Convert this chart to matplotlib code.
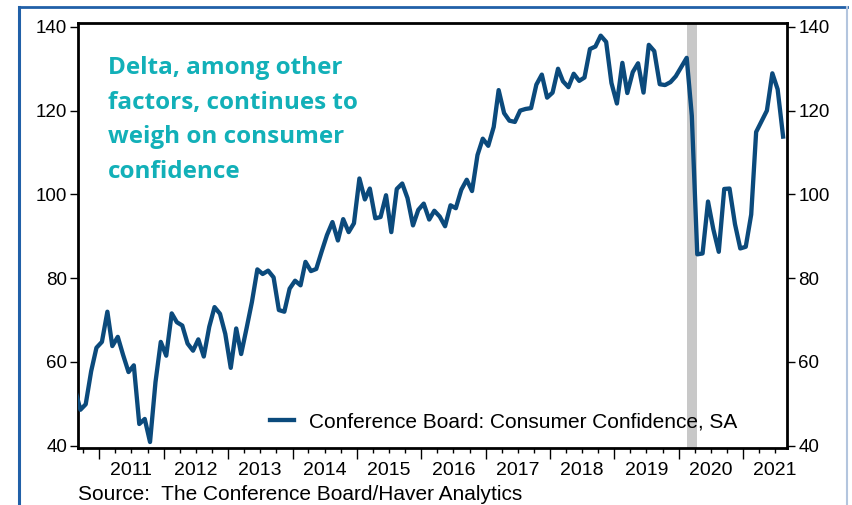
import matplotlib
matplotlib.use("Agg")
import matplotlib.pyplot as plt
import matplotlib.dates as mdates
from matplotlib.ticker import FuncFormatter
import pandas as pd

# ---------- data: Conference Board consumer confidence, monthly from Aug 2010 ----------
start_month = "2010-08-01"
confidence = [
    53.5, 48.6, 49.9, 57.8, 63.4,
    64.8, 72.0, 63.8, 66.0, 61.7, 57.6, 59.2, 45.2, 46.4, 40.9, 55.2, 64.8,
    61.5, 71.6, 69.5, 68.7, 64.4, 62.7, 65.4, 61.3, 68.4, 73.1, 71.5, 66.7,
    58.6, 68.0, 61.9, 68.1, 74.3, 82.1, 81.0, 81.8, 80.2, 72.4, 72.0, 77.5,
    79.4, 78.3, 83.9, 81.7, 82.2, 86.4, 90.3, 93.4, 89.0, 94.1, 91.0, 93.1,
    103.8, 98.8, 101.4, 94.3, 94.6, 99.8, 91.0, 101.3, 102.6, 99.1, 92.6, 96.3,
    97.8, 94.0, 96.1, 94.7, 92.4, 97.4, 96.7, 101.1, 103.5, 100.8, 109.4, 113.3,
    111.6, 116.1, 124.9, 119.4, 117.6, 117.3, 120.0, 120.4, 120.6, 126.2, 128.6, 123.1,
    124.3, 130.0, 127.0, 125.6, 128.8, 127.1, 127.9, 134.7, 135.3, 137.9, 136.4, 126.6,
    121.7, 131.4, 124.2, 129.2, 131.3, 124.3, 135.7, 134.2, 126.3, 126.1, 126.8, 128.2,
    130.4, 132.6, 118.8, 85.7, 85.9, 98.3, 91.7, 86.3, 101.3, 101.4, 92.9, 87.1,
    87.5, 95.2, 114.9, 117.5, 120.0, 128.9, 125.1, 113.8,
]
recession = ("2020-02-15", "2020-04-15")
y_ticks = [40, 60, 80, 100, 120, 140]
series_label = "Conference Board: Consumer Confidence, SA"
headline = "Delta, among other\nfactors, continues to\nweigh on consumer\nconfidence"
source = "Source:  The Conference Board/Haver Analytics"

LINE = "#0b4a7c"
TEAL = "#12b0b8"
FONT = ["Liberation Sans", "DejaVu Sans"]

# 月中位置
dates = pd.date_range(start_month, periods=len(confidence), freq="MS") + pd.Timedelta(days=14)

plt.rcParams["font.family"] = FONT
fig = plt.figure(figsize=(8.52, 5.05), dpi=100)
ax = fig.add_axes([0.0919, 0.1123, 0.8322, 0.8412])

ax.axvspan(pd.Timestamp(recession[0]), pd.Timestamp(recession[1]),
           color="#c8c8c8", lw=0, zorder=1)
ax.plot(dates, confidence, color=LINE, lw=3.1, solid_joinstyle="round",
        label=series_label, zorder=3)

ax.set_xlim(pd.Timestamp("2010-09-03"), pd.Timestamp("2021-09-08"))
ax.set_ylim(39.4, 140.8)
ax.set_yticks(y_ticks)

# x 轴：年界主刻度，季度次刻度，年份标签放在 7 月
ax.xaxis.set_major_locator(mdates.YearLocator())
ax.xaxis.set_major_formatter(FuncFormatter(lambda v, p: ""))
ax.xaxis.set_minor_locator(mdates.MonthLocator(bymonth=[4, 7, 10]))


def year_label(v, pos):
    d = mdates.num2date(v)
    return str(d.year) if d.month == 7 else ""


ax.xaxis.set_minor_formatter(FuncFormatter(year_label))

for s in ax.spines.values():
    s.set_linewidth(2.0)
    s.set_color("black")

ax.tick_params(axis="y", which="major", direction="out", length=6, width=1.0,
               labelsize=13.5, pad=2, left=True, right=True,
               labelleft=True, labelright=True)
ax.tick_params(axis="x", which="major", direction="out", length=8, width=1.0)
ax.tick_params(axis="x", which="minor", direction="out", length=3.6, width=1.0,
               labelsize=14, pad=6)

leg = ax.legend(loc="center left", bbox_to_anchor=(0.27, 0.0626), frameon=False,
                fontsize=15, handlelength=1.15, handletextpad=0.75,
                borderpad=0, borderaxespad=0)

ax.text(0.0415, 0.924, headline, transform=ax.transAxes, ha="left", va="top",
        fontsize=17.5, fontweight="bold", color=TEAL, linespacing=1.6,
        family=["Open Sans", "DejaVu Sans"])

fig.text(78 / 852, 1 - 500 / 505, source, ha="left", va="baseline", fontsize=15)

# 外框
fig.add_artist(plt.Line2D([19 / 852, 847 / 852], [1 - 7 / 505, 1 - 7 / 505],
                          transform=fig.transFigure, color="#2160a8", lw=2))
fig.add_artist(plt.Line2D([19 / 852, 19 / 852], [0, 1 - 7 / 505],
                          transform=fig.transFigure, color="#2160a8", lw=2.2))
fig.add_artist(plt.Line2D([847 / 852, 847 / 852], [0, 1 - 7 / 505],
                          transform=fig.transFigure, color="#b3c5de", lw=1.5))

fig.savefig("out.png", dpi=100)
